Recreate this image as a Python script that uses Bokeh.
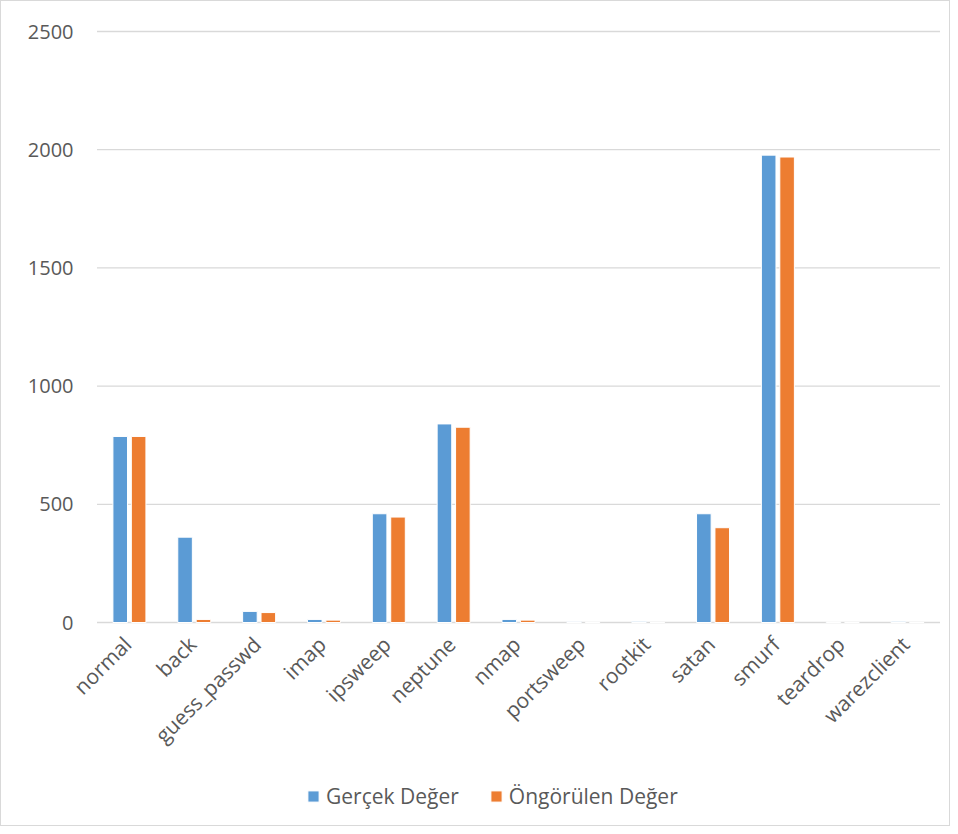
import math
from bokeh.plotting import figure
from bokeh.models import ColumnDataSource, Legend, LegendItem, Range1d
from bokeh.core.properties import value
from bokeh.embed import file_html
from bokeh.resources import INLINE

categories = ["normal", "back", "guess_passwd", "imap", "ipsweep", "neptune", "nmap",
              "portsweep", "rootkit", "satan", "smurf", "teardrop", "warezclient"]
gercek = [787, 361, 47, 13, 460, 840, 13, 3, 5, 460, 1977, 2, 5]
ongorulen = [787, 13, 42, 10, 446, 826, 10, 1, 0, 401, 1969, 0, 0]
y_ticks = [0, 500, 1000, 1500, 2000, 2500]
y_tick_labels = ["0", "500", "1000", "1500", "2000", "2500"]

TXT = "#595959"
GRID = "#d9d9d9"
BLUE = "#5b9bd5"
ORANGE = "#ed7d31"
FONT = "Open Sans"

# layout (pixels)
W, H = 950, 826
PLOT_L, PLOT_R = 95.5, 938.5
ZERO_Y, TOP_Y = 621.0, 30.0
n = len(categories)
px_x = (PLOT_R - PLOT_L) / n
px_y = (ZERO_Y - TOP_Y) / y_ticks[-1]
x_range = Range1d(-PLOT_L / px_x, n + (W - PLOT_R) / px_x)
y_range = Range1d(-(H - ZERO_Y) / px_y, y_ticks[-1] + TOP_Y / px_y)

idx = list(range(n))
xc = [i + 0.5 for i in idx]
src = ColumnDataSource(dict(cat=categories, g=gercek, o=ongorulen, xc=xc,
                            xb=[x - 0.142 for x in xc], xo=[x + 0.142 for x in xc],
                            base=[0] * n))
grid_src = ColumnDataSource(dict(y=y_ticks, lab=y_tick_labels,
                                 x0=[0] * len(y_ticks), x1=[n] * len(y_ticks)))

p = figure(x_range=x_range, y_range=y_range, width=W, height=H,
           output_backend="svg", toolbar_location=None, tools="",
           min_border_left=0, min_border_right=0, min_border_top=0, min_border_bottom=0)
p.outline_line_color = None
p.background_fill_color = "white"
p.border_fill_color = "white"
p.xaxis.visible = False
p.yaxis.visible = False
p.grid.visible = False

# gridlines and y labels
p.segment(x0="x0", x1="x1", y0="y", y1="y", source=grid_src,
          line_color=GRID, line_width=1.3)
p.text(x="x0", y="y", text="lab", source=grid_src, x_offset=-23.5,
       text_align="right", text_baseline="middle",
       text_font=value(FONT), text_font_size="20px", text_color=TXT)

r1 = p.vbar(x="xb", top="g", width=0.225, source=src,
            fill_color=BLUE, line_color="white", line_width=1)
r2 = p.vbar(x="xo", top="o", width=0.225, source=src,
            fill_color=ORANGE, line_color="white", line_width=1)

# category labels under the zero line
p.text(x="xc", y="base", text="cat", source=src,
       angle=math.pi / 4, text_align="right", text_baseline="top",
       x_offset=-12, y_offset=8, text_font=value(FONT), text_font_size="21px",
       text_color=TXT)

legend = Legend(items=[LegendItem(label="Gerçek Değer", renderers=[r1]),
                       LegendItem(label="Öngörülen Değer", renderers=[r2])],
                orientation="horizontal", location=(305, 17), margin=0, padding=0,
                label_text_font=FONT, label_text_font_size="21px", label_text_color=TXT,
                glyph_width=14, glyph_height=14, spacing=30, label_standoff=6,
                border_line_color=None, background_fill_alpha=0)
p.add_layout(legend, "center")

p.styles = {"border": "1px solid #d9d9d9"}

open("out.html", "w").write(file_html(p, INLINE))
